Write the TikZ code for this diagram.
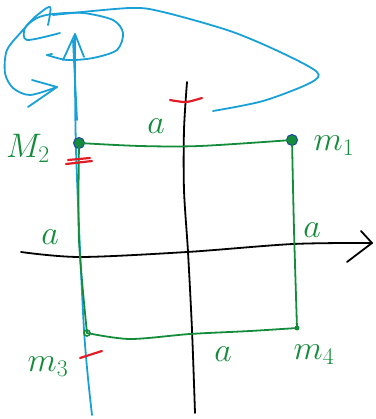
\RequirePackage{fix-cm}
\documentclass[tikz,border=0pt]{standalone}
\usepackage{tikz}
\definecolor{pgreen}{RGB}{20,140,60}
\definecolor{pblue}{RGB}{25,160,215}
\definecolor{pred}{RGB}{225,30,40}
\definecolor{pdblue}{RGB}{30,70,160}
\tikzset{
  pen/.style={line width=1.8pt, line cap=round, line join=round},
  gpen/.style={pen, draw=pgreen},
  bpen/.style={pen, draw=pblue},
  rpen/.style={pen, draw=pred, line width=2.2pt},
  kpen/.style={pen, draw=black},
  bigmass/.style={circle, fill=pgreen, draw=pdblue, line width=1pt, minimum size=11pt, inner sep=0pt},
  smallmass/.style={circle, draw=pgreen, line width=1.6pt, minimum size=6pt, inner sep=0pt},
  tinymass/.style={circle, fill=pgreen, minimum size=5pt, inner sep=0pt},
  lbl/.style={text=pgreen, font=\fontsize{34}{36}\selectfont, inner sep=0pt},
}
\begin{document}
\begin{tikzpicture}[x=1pt,y=-1pt]
\useasboundingbox (0,0) rectangle (375,419);
% axes coordinates
\coordinate (xs) at (21,252);
\coordinate (xe) at (372,243);
\coordinate (ys) at (187,82);
\coordinate (ye) at (195,413);
\coordinate (bt) at (75,34);
\coordinate (bb) at (92,415);
% black axes
\draw[kpen] plot[smooth] coordinates {(xs) (80,257) (187,252) (293,244) (xe)};
\draw[kpen] (361,231) -- (xe) -- (347,262);
\draw[kpen] plot[smooth] coordinates {(ys) (184,130) (184,190) (188,252) (192,330) (ye)};
% blue axis and rotation
\draw[bpen] plot[smooth] coordinates {(bt) (76,150) (84,330) (bb)};
\draw[bpen] (73,40) -- (77,120);
\draw[bpen] (63,60) -- (bt) -- (84,57);
\draw[bpen] (47,55) -- (52,54);
\draw[bpen] plot[smooth] coordinates {(60,33) (27,40) (25,28) (37,18) (53,14) (83,13) (113,20) (123,33) (117,50) (93,58) (67,60) (47,55)};
\draw[bpen] plot[smooth] coordinates {(48,25) (50,7) (35,17) (23,30) (7,50) (5,73) (13,88) (30,95) (57,87)};
\draw[bpen] (32,80) -- (57,87) -- (28,107);
\draw[bpen] plot[smooth] coordinates {(53,15) (130,8) (163,12) (230,31) (280,52) (317,72) (310,83) (263,101) (213,111)};
% masses
\node[bigmass] (m2) at (79,143) {};
\node[bigmass] (m1) at (292,140) {};
\node[smallmass] (m3) at (87,333) {};
\node[tinymass] (m4) at (297,328) {};
% green square
\draw[gpen] plot[smooth] coordinates {(m2.center) (140,146) (200,146) (m1.center)};
\draw[gpen] plot[smooth] coordinates {(m1.center) (294,230) (m4.center)};
\draw[gpen] plot[smooth] coordinates {(m3.center) (130,339) (190,334) (250,331) (m4.center)};
\draw[gpen] plot[smooth] coordinates {(m2.center) (79,240) (m3.center)};
% red ticks
\draw[rpen] plot[smooth] coordinates {(170,100) (186,102) (202,98)};
\draw[rpen] (66,164) -- (92,161);
\draw[rpen] (68,160) -- (90,158);
\draw[rpen] (80,358) -- (102,351);
% labels
\node[lbl] (la) at (156,126) {$a$};
\node[lbl] (l1) at (334,146) {$m_1$};
\node[lbl] (l2) at (28,148) {$M_2$};
\node[lbl] (l3) at (50,237) {$a$};
\node[lbl] (l4) at (312,230) {$a$};
\node[lbl] (l5) at (48,367) {$m_3$};
\node[lbl] (l6) at (223,354) {$a$};
\node[lbl] (l7) at (314,355) {$m_4$};
\end{tikzpicture}
\end{document}
